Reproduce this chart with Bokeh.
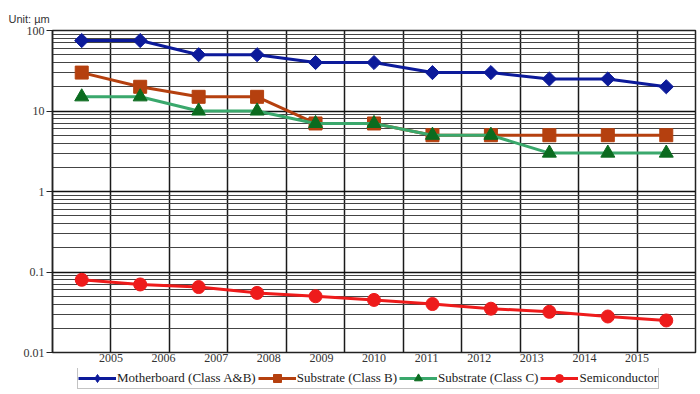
import math
from bokeh.plotting import figure
from bokeh.layouts import column
from bokeh.models import (FixedTicker, NumeralTickFormatter, Legend, LegendItem, ColumnDataSource, Range1d)
from bokeh.embed import file_html
from bokeh.resources import INLINE

years = ["2005", "2006", "2007", "2008", "2009", "2010", "2011", "2012", "2013", "2014", "2015"]
motherboard = [75, 75, 50, 50, 40, 40, 30, 30, 25, 25, 20]
substrate_b = [30, 20, 15, 15, 7, 7, 5, 5, 5, 5, 5]
substrate_c = [15, 15, 10, 10, 7, 7, 5, 5, 3, 3, 3]
semiconductor = [0.08, 0.07, 0.065, 0.055, 0.05, 0.045, 0.04, 0.035, 0.032, 0.028, 0.025]
names = ["Motherboard (Class A&B)", "Substrate (Class B)", "Substrate (Class C)", "Semiconductor"]
y_major = [0.01, 0.1, 1, 10, 100]

n = len(years)
xs = [i + 0.5 for i in range(n)]

p = figure(width=700, height=368, y_axis_type="log", x_range=(0, n), y_range=(0.01, 100),
           output_backend="svg", toolbar_location=None,
           min_border_left=52, min_border_right=5, min_border_top=30, min_border_bottom=16)
p.background_fill_color = "white"
p.border_fill_color = "white"
p.outline_line_color = "#222222"
p.outline_line_width = 1.5

# title
p.title.text = "Unit: µm"
p.title.align = "left"
p.title.offset = -44
p.title.text_font = "Liberation Sans"
p.title.text_font_size = "11px"
p.title.text_font_style = "normal"
p.title.text_color = "#333333"
p.title.standoff = 12

# y axis
minor = [m * d for d in y_major[:-1] for m in range(2, 10)]
p.yaxis.ticker = FixedTicker(ticks=y_major, minor_ticks=minor)
p.yaxis.formatter = NumeralTickFormatter(format="0.[00]")
p.yaxis.major_label_text_font = "Liberation Serif"
p.yaxis.major_label_text_font_size = "12px"
p.yaxis.major_label_text_color = "#333333"
p.yaxis.axis_line_color = "#222222"
p.yaxis.axis_line_width = 1.5
p.yaxis.major_tick_out = 6
p.yaxis.major_tick_in = 0
p.yaxis.major_tick_line_color = "#222222"
p.yaxis.minor_tick_line_color = None
p.yaxis.major_label_standoff = 2
p.ygrid.grid_line_color = "#111111"
p.ygrid.grid_line_width = 1.5
p.ygrid.minor_grid_line_color = "#444444"
p.ygrid.minor_grid_line_width = 1

# x axis: labels spread as in the original, grid at category boundaries
label_pos = [1 + i * (n - 2) / (n - 1) for i in range(n)]
p.xaxis.ticker = FixedTicker(ticks=label_pos)
p.xaxis.major_label_overrides = {pos: yr for pos, yr in zip(label_pos, years)}
p.xaxis.major_label_text_font = "Liberation Serif"
p.xaxis.major_label_text_font_size = "12px"
p.xaxis.major_label_text_color = "#333333"
p.xaxis.axis_line_color = None
p.xaxis.major_tick_line_color = None
p.xaxis.minor_tick_line_color = None
p.xaxis.major_tick_out = 0
p.xaxis.major_tick_in = 0
p.xaxis.major_label_standoff = 1
p.xgrid.ticker = FixedTicker(ticks=list(range(0, n + 1)))
p.xgrid.grid_line_color = "#1a1a1a"
p.xgrid.grid_line_width = 1.5

series = [
    (motherboard, "#0c1a9a", "#0c1a9a", "square", 10, math.pi / 4, "diamond"),
    (substrate_b, "#b5400f", "#b5400f", "square", 13, 0, "square"),
    (substrate_c, "#3aa86c", "#0b6b1f", "triangle", 14, 0, "triangle"),
    (semiconductor, "#ee1b1b", "#ee1b1b", "circle", 13, 0, "circle"),
]

# legend strip below the chart
lg = figure(width=700, height=26, x_range=Range1d(0, 1), y_range=Range1d(0, 1),
            output_backend="svg", toolbar_location=None,
            min_border_left=0, min_border_right=0, min_border_top=0, min_border_bottom=0)
lg.axis.visible = False
lg.grid.visible = False
lg.outline_line_color = None
lg.background_fill_color = "white"
lg.border_fill_color = "white"

items = []
for (vals, lc, mc, mk, sz, ang, lmk), name in zip(series, names):
    src = ColumnDataSource(dict(x=xs, y=vals))
    p.line("x", "y", source=src, line_color=lc, line_width=3)
    p.scatter("x", "y", source=src, marker=mk, size=sz, angle=ang,
              fill_color=mc, line_color=mc)
    # off-screen proxies, only used to draw the legend swatches
    proxy = ColumnDataSource(dict(x=[-5, -4], y=[-5, -5]))
    l1 = lg.line("x", "y", source=proxy, line_color=lc, line_width=3)
    l2 = lg.scatter("x", "y", source=proxy, marker=lmk, size=sz,
                    fill_color=mc, line_color=mc)
    items.append(LegendItem(label=name, renderers=[l1, l2]))

legend = Legend(items=items, orientation="horizontal", location=(25, 5))
legend.label_text_font = "Liberation Serif"
legend.label_text_font_size = "13px"
legend.label_text_color = "#222222"
legend.label_standoff = 1
legend.label_height = 12
legend.glyph_width = 38
legend.glyph_height = 20
legend.spacing = 2
legend.padding = 0
legend.margin = 0
legend.border_line_color = "#888888"
legend.border_line_width = 1.5
legend.background_fill_color = "white"
legend.background_fill_alpha = 1
lg.add_layout(legend, "center")

layout = column(p, lg, spacing=0)
open("out.html", "w").write(file_html(layout, INLINE))
